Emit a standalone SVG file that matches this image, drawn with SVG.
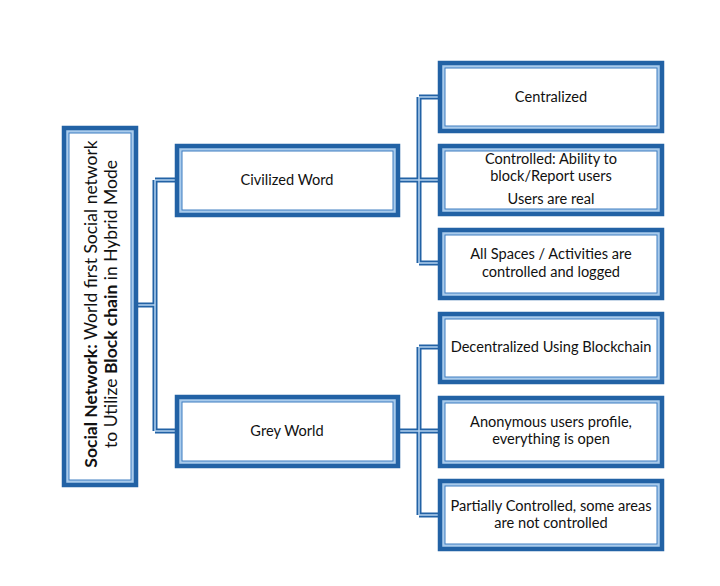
<svg xmlns="http://www.w3.org/2000/svg" width="720" height="586" viewBox="0 0 720 586">
<style>
.o{fill:#a9cbec;stroke:#2262a5;stroke-width:4.5}
.i{fill:#fff;stroke:#3d7cc0;stroke-width:1}
.c1{fill:none;stroke:#2262a5;stroke-width:5}
.c2{fill:none;stroke:#b4d2f0;stroke-width:1.5}
text{font-family:Lato,"Open Sans","Liberation Sans",sans-serif;font-size:14.6px;fill:#111;text-anchor:middle}
.r{font-size:17.5px}
</style>
<rect width="720" height="586" fill="#fff"/>
<g id="connectors">
<path class="c1" d="M137 305H155M155 180V431M155 180H175M155 431H175M399 180H419M419 97V263M419 97H438M419 263H438M419 180H438M399 431H419M419 347V515M419 347H438M419 431H438M419 515H438"/>
<path class="c2" d="M137 305H155M155 180V431M155 180H175M155 431H175M399 180H419M419 97V263M419 97H438M419 263H438M419 180H438M399 431H419M419 347V515M419 347H438M419 431H438M419 515H438"/>
</g>
<g id="root">
<rect class="o" x="64" y="128" width="72" height="357"/>
<rect class="i" x="69" y="133" width="62" height="347"/>
<text class="r" transform="translate(97,304) rotate(-90)"><tspan font-weight="bold">Social Network:</tspan> World first Social network</text>
<text class="r" transform="translate(117,304) rotate(-90)">to Utilize <tspan font-weight="bold">Block chain</tspan> in Hybrid Mode</text>
</g>
<g id="civilized">
<rect class="o" x="177" y="146" width="221" height="69"/>
<rect class="i" x="182" y="151" width="211" height="59"/>
<text x="287" y="185">Civilized Word</text>
</g>
<g id="grey">
<rect class="o" x="177" y="397" width="221" height="69"/>
<rect class="i" x="182" y="402" width="211" height="59"/>
<text x="287" y="436">Grey World</text>
</g>
<g id="centralized">
<rect class="o" x="440" y="63" width="222" height="68"/>
<rect class="i" x="445" y="68" width="212" height="58"/>
<text x="551" y="102">Centralized</text>
</g>
<g id="controlled">
<rect class="o" x="440" y="146" width="222" height="68"/>
<rect class="i" x="445" y="151" width="212" height="58"/>
<text x="551" y="164">Controlled: Ability to</text>
<text x="551" y="181">block/Report users</text>
<text x="551" y="204">Users are real</text>
</g>
<g id="allspaces">
<rect class="o" x="440" y="230" width="222" height="68"/>
<rect class="i" x="445" y="235" width="212" height="58"/>
<text x="551" y="259">All Spaces / Activities are</text>
<text x="551" y="277">controlled and logged</text>
</g>
<g id="decentralized">
<rect class="o" x="440" y="314" width="222" height="68"/>
<rect class="i" x="445" y="319" width="212" height="58"/>
<text x="551" y="352">Decentralized Using Blockchain</text>
</g>
<g id="anonymous">
<rect class="o" x="440" y="398" width="222" height="68"/>
<rect class="i" x="445" y="403" width="212" height="58"/>
<text x="551" y="427">Anonymous users profile,</text>
<text x="551" y="444">everything is open</text>
</g>
<g id="partial">
<rect class="o" x="440" y="481" width="222" height="68"/>
<rect class="i" x="445" y="486" width="212" height="58"/>
<text x="551" y="511">Partially Controlled, some areas</text>
<text x="551" y="528">are not controlled</text>
</g>
</svg>
